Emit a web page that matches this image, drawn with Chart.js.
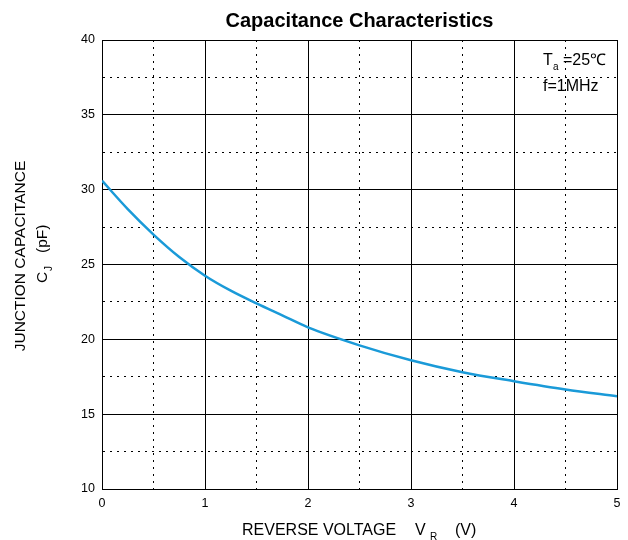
<!DOCTYPE html>
<html lang='en'>
  <head>
    <title>Capacitance Characteristics</title>
    <meta charset='UTF-8'>
    <script src='https://cdn.jsdelivr.net/npm/chart.js@4.4.1/dist/chart.umd.min.js'></script>
    <style>
      html, body { margin: 0; padding: 0; background: #fff; }
      #wrap { width: 628px; height: 540px; }
    </style>
  </head>
  <body>
    <div id='wrap'><canvas id='grafico'></canvas></div>
    <script>
      // reverse voltage (V) and junction capacitance (pF)
      let voltage     = [0, 0.25, 0.5, 0.75, 1, 1.25, 1.5, 1.75, 2, 2.5, 3, 3.5, 4, 4.5, 5];
      let capacitance = [30.6, 28.7, 27.0, 25.5, 24.25, 23.25, 22.4, 21.6, 20.8, 19.6, 18.6, 17.8, 17.2, 16.65, 16.2];
      let xTicks      = [0, 1, 2, 3, 4, 5];
      let yTicks      = [10, 15, 20, 25, 30, 35, 40];

      const FONT = "'Liberation Sans', Arial, sans-serif";

      // left-aligned text piece; sub pieces are smaller and lowered
      function put(ctx, text, x, y, size, sub) {
        ctx.font = (sub ? Math.round(size * 0.62) : size) + 'px ' + FONT;
        ctx.fillText(text, x, sub ? y + size * 0.38 : y);
      }

      let labelsPlugin = {
        id: 'labels',
        afterDraw(chart) {
          let ctx = chart.ctx;
          let area = chart.chartArea;
          ctx.save();
          ctx.fillStyle = '#000';
          ctx.textBaseline = 'middle';

          // title
          ctx.font = 'bold 20px ' + FONT;
          ctx.textAlign = 'center';
          ctx.fillText('Capacitance Characteristics', (area.left + area.right) / 2, 21);
          ctx.textAlign = 'left';

          // x axis title
          put(ctx, 'REVERSE VOLTAGE', 242, 531, 16);
          put(ctx, 'V', 415, 531, 16);
          put(ctx, 'R', 430, 531, 16, true);
          put(ctx, '(V)', 455, 531, 16);

          // y axis title, two rotated lines
          ctx.save();
          ctx.translate(21, 256);
          ctx.rotate(-Math.PI / 2);
          ctx.textAlign = 'center';
          ctx.font = '15.5px ' + FONT;
          ctx.fillText('JUNCTION CAPACITANCE', 0, 0);
          ctx.restore();
          ctx.save();
          ctx.translate(43, 256);
          ctx.rotate(-Math.PI / 2);
          put(ctx, 'C', -27, 0, 15.5);
          put(ctx, 'J', -15, 0, 15.5, true);
          put(ctx, '(pF)', 3, 0, 15.5);
          ctx.restore();

          // test conditions
          put(ctx, 'T', 543, 61, 16);
          put(ctx, 'a', 553, 61, 16, true);
          put(ctx, '=25℃', 563, 61, 16);
          put(ctx, 'f=1MHz', 543, 87, 16);
          ctx.restore();
        }
      };

      let isMajorX = v => Math.abs(v - Math.round(v)) < 1e-6;
      let isMajorY = v => Math.abs(v / 5 - Math.round(v / 5)) < 1e-6;

      let chartConfig = {
        type: 'line',
        data: {
          datasets: [{
            data: voltage.map((v, i) => ({x: v, y: capacitance[i]})),
            borderColor: '#1a9ad8',
            borderWidth: 2.5,
            pointRadius: 0,
            cubicInterpolationMode: 'monotone',
            fill: false,
          }],
        },
        options: {
          responsive: true,
          maintainAspectRatio: false,
          animation: false,
          layout: { padding: { left: 0, top: 40, right: 11, bottom: 0 } },
          plugins: {
            legend: { display: false },
            tooltip: { enabled: false },
          },
          scales: {
            x: {
              type: 'linear',
              min: 0, max: 5,
              afterBuildTicks: s => { s.ticks = [0, 0.5, 1, 1.5, 2, 2.5, 3, 3.5, 4, 4.5, 5].map(v => ({value: v})); },
              afterFit: s => { s.height = 51; },
              ticks: {
                color: '#000',
                font: { family: FONT, size: 12.5 },
                padding: 7,
                maxRotation: 0,
                autoSkip: false,
                callback: v => xTicks.includes(v) ? String(v) : '',
              },
              grid: {
                drawTicks: false,
                color: '#000',
                lineWidth: 1,
              },
              border: {
                color: '#000',
                dash: ctx => (ctx.tick && !isMajorX(ctx.tick.value)) ? [2, 5] : [],
              },
            },
            y: {
              type: 'linear',
              min: 10, max: 40,
              afterBuildTicks: s => {
                let t = [];
                for (let v = 10; v <= 40; v += 2.5) t.push({value: v});
                s.ticks = t;
              },
              afterFit: s => { s.width = 102; },
              ticks: {
                color: '#000',
                font: { family: FONT, size: 12.5 },
                padding: 7,
                autoSkip: false,
                callback: v => yTicks.includes(v) ? String(v) : '',
              },
              grid: {
                drawTicks: false,
                color: '#000',
                lineWidth: 1,
              },
              border: {
                color: '#000',
                dash: ctx => (ctx.tick && !isMajorY(ctx.tick.value)) ? [2, 5] : [],
              },
            },
          },
        },
        plugins: [labelsPlugin],
      };

      let myChart = new Chart(document.getElementById('grafico').getContext('2d'), chartConfig);
    </script>
  </body>
</html>
